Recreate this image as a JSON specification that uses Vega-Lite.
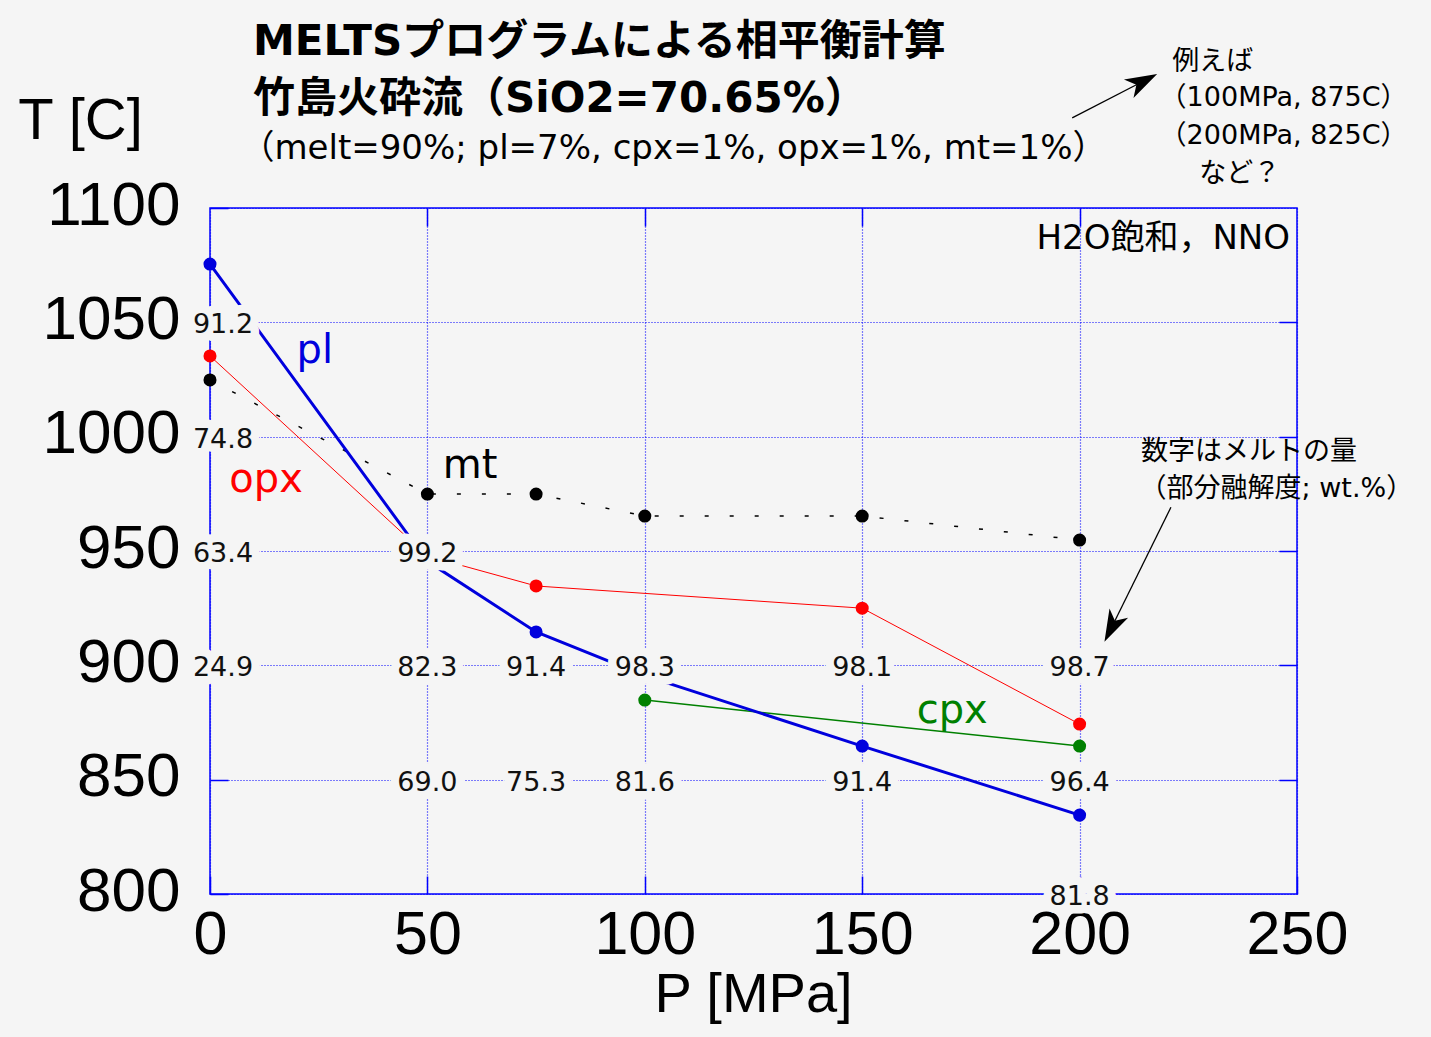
{
  "$schema": "https://vega.github.io/schema/vega-lite/v6.json",
  "width": 1087,
  "height": 686,
  "autosize": {"type": "none"},
  "padding": {"left": 210, "top": 208, "right": 134, "bottom": 143},
  "background": "#f5f5f5",
  "config": {
    "view": {"stroke": "#0000ff", "strokeWidth": 1.5, "fill": null},
    "font": "DejaVu Sans, Noto Sans CJK JP"
  },
  "datasets": {
    "phases": [
      {"phase": "pl", "P": 0, "T": 1075.5}, {"phase": "pl", "P": 50, "T": 945.5}, {"phase": "pl", "P": 75, "T": 914.6},
      {"phase": "pl", "P": 100, "T": 895.5}, {"phase": "pl", "P": 150, "T": 864.7}, {"phase": "pl", "P": 200, "T": 834.5},
      {"phase": "opx", "P": 0, "T": 1035.3}, {"phase": "opx", "P": 50, "T": 947.8}, {"phase": "opx", "P": 75, "T": 934.7},
      {"phase": "opx", "P": 150, "T": 925.0}, {"phase": "opx", "P": 200, "T": 874.3},
      {"phase": "mt", "P": 0, "T": 1024.8}, {"phase": "mt", "P": 50, "T": 974.9}, {"phase": "mt", "P": 75, "T": 974.9},
      {"phase": "mt", "P": 100, "T": 965.3}, {"phase": "mt", "P": 150, "T": 965.3}, {"phase": "mt", "P": 200, "T": 954.8},
      {"phase": "cpx", "P": 100, "T": 884.8}, {"phase": "cpx", "P": 200, "T": 864.7}
    ],
    "melt": [
      {"P": 0, "T": 1050, "melt": "91.2"}, {"P": 0, "T": 1000, "melt": "74.8"}, {"P": 0, "T": 950, "melt": "63.4"}, {"P": 0, "T": 900, "melt": "24.9"},
      {"P": 50, "T": 950, "melt": "99.2"}, {"P": 50, "T": 900, "melt": "82.3"}, {"P": 50, "T": 850, "melt": "69.0"},
      {"P": 75, "T": 900, "melt": "91.4"}, {"P": 75, "T": 850, "melt": "75.3"},
      {"P": 100, "T": 900, "melt": "98.3"}, {"P": 100, "T": 850, "melt": "81.6"},
      {"P": 150, "T": 900, "melt": "98.1"}, {"P": 150, "T": 850, "melt": "91.4"},
      {"P": 200, "T": 900, "melt": "98.7"}, {"P": 200, "T": 850, "melt": "96.4"}, {"P": 200, "T": 800, "melt": "81.8"}
    ],
    "names": [
      {"phase": "pl", "P": 24.1, "T": 1032.2}, {"phase": "opx", "P": 12.9, "T": 975.8},
      {"phase": "mt", "P": 59.8, "T": 981.9}, {"phase": "cpx", "P": 170.7, "T": 874.8}
    ],
    "titles": [
      {"text": "MELTSプログラムによる相平衡計算", "P": 9.9, "T": 1166.9},
      {"text": "竹島火砕流（SiO2=70.65%）", "P": 9.9, "T": 1142.0}
    ],
    "subtitle": [
      {"text": "（melt=90%; pl=7%, cpx=1%, opx=1%, mt=1%）", "P": 7, "T": 1121.4}
    ],
    "notes": [
      {"text": "例えば", "P": 221.3, "T": 1160.3},
      {"text": "（100MPa, 875C）", "P": 218.4, "T": 1144.4},
      {"text": "（200MPa, 825C）", "P": 218.4, "T": 1128.2},
      {"text": "など？", "P": 227.5, "T": 1111.4},
      {"text": "数字はメルトの量", "P": 214.1, "T": 989.8},
      {"text": "（部分融解度; wt.%）", "P": 213.8, "T": 973.6}
    ],
    "cond": [
      {"text": "H2O飽和，NNO", "P": 248.4, "T": 1082.1}
    ],
    "arrows": [
      {"P": 198.3, "T": 1139.4, "P2": 214.3, "T2": 1155.1},
      {"P": 221.0, "T": 969.1, "P2": 207.5, "T2": 917.1}
    ],
    "headUp": [{"P": 214.3, "T": 1155.1}],
    "headDown": [{"P": 207.5, "T": 917.1}]
  },
  "layer": [
    {
      "data": {"name": "phases"},
      "transform": [{"filter": "datum.phase === 'cpx'"}],
      "mark": {"type": "line", "color": "#008000", "strokeWidth": 1.5},
      "encoding": {
        "x": {"field": "P", "type": "quantitative", "scale": {"domain": [0, 250], "nice": false, "zero": false},
          "axis": {"orient": "bottom", "values": [0, 50, 100, 150, 200, 250], "format": "d", "grid": true, "gridColor": "#0000ff", "gridDash": [1, 2], "gridWidth": 1.2, "gridOpacity": 1,
            "domain": false, "ticks": true, "tickSize": -18, "tickColor": "#0000ff", "tickWidth": 1.5,
            "labelFont": "Liberation Sans", "labelFontSize": 61, "labelColor": "#000000", "labelPadding": 29, "labelFlush": false, "labelOverlap": false,
            "title": "P [MPa]", "titleFont": "Liberation Sans", "titleFontSize": 56, "titleFontWeight": "normal", "titleColor": "#000000",
            "titleX": 543, "titleY": 117, "titleAlign": "center", "titleBaseline": "alphabetic", "zindex": 0}},
        "y": {"field": "T", "type": "quantitative", "scale": {"domain": [800, 1100], "nice": false, "zero": false},
          "axis": {"orient": "left", "values": [800, 850, 900, 950, 1000, 1050, 1100], "format": "d", "grid": true, "gridColor": "#0000ff", "gridDash": [1, 2], "gridWidth": 1.2, "gridOpacity": 1,
            "domain": false, "ticks": true, "tickSize": -18, "tickColor": "#0000ff", "tickWidth": 1.5,
            "labelFont": "Liberation Sans", "labelFontSize": 62, "labelColor": "#000000", "labelPadding": 48, "labelOffset": -3, "labelFlush": false, "labelOverlap": false,
            "title": "T [C]", "titleFont": "Liberation Sans", "titleFontSize": 58, "titleFontWeight": "normal", "titleColor": "#000000",
            "titleAngle": 0, "titleX": -130, "titleY": -70, "titleAlign": "center", "titleBaseline": "alphabetic", "zindex": 0}}
      }
    },
    {
      "data": {"name": "phases"},
      "transform": [{"filter": "datum.phase === 'opx'"}],
      "mark": {"type": "line", "color": "#ff0000", "strokeWidth": 1},
      "encoding": {
        "x": {"field": "P", "type": "quantitative", "axis": null},
        "y": {"field": "T", "type": "quantitative", "axis": null}
      }
    },
    {
      "data": {"name": "phases"},
      "transform": [{"filter": "datum.phase === 'mt'"}],
      "mark": {"type": "line", "color": "#000000", "strokeWidth": 1.5, "strokeDash": [4, 21]},
      "encoding": {
        "x": {"field": "P", "type": "quantitative", "axis": null},
        "y": {"field": "T", "type": "quantitative", "axis": null}
      }
    },
    {
      "data": {"name": "phases"},
      "transform": [{"filter": "datum.phase === 'pl'"}],
      "mark": {"type": "line", "color": "#0000dd", "strokeWidth": 3},
      "encoding": {
        "x": {"field": "P", "type": "quantitative", "axis": null},
        "y": {"field": "T", "type": "quantitative", "axis": null}
      }
    },
    {
      "data": {"name": "phases"},
      "mark": {"type": "point", "filled": true, "size": 170, "opacity": 1},
      "encoding": {
        "x": {"field": "P", "type": "quantitative",
          "axis": {"orient": "top", "values": [50, 100, 150, 200], "grid": false, "domain": false, "labels": false, "ticks": true, "tickSize": -18, "tickColor": "#0000ff", "tickWidth": 1.5, "title": null, "zindex": 0}},
        "y": {"field": "T", "type": "quantitative",
          "axis": {"orient": "right", "values": [850, 900, 950, 1000, 1050], "grid": false, "domain": false, "labels": false, "ticks": true, "tickSize": -18, "tickColor": "#0000ff", "tickWidth": 1.5, "title": null, "zindex": 0}},
        "color": {"field": "phase", "type": "nominal", "scale": {"domain": ["pl", "opx", "mt", "cpx"], "range": ["#0000dd", "#ff0000", "#000000", "#008000"]}, "legend": null}
      }
    },
    {
      "data": {"name": "melt"},
      "transform": [{"filter": "datum.P > 0"}],
      "mark": {"type": "text", "font": "DejaVu Sans", "fontSize": 27, "align": "center", "baseline": "middle", "dy": 3, "fill": "#f5f5f5", "stroke": "#f5f5f5", "strokeWidth": 17, "strokeJoin": "round"},
      "encoding": {
        "x": {"field": "P", "type": "quantitative", "axis": null},
        "y": {"field": "T", "type": "quantitative", "axis": null},
        "text": {"field": "melt"}
      }
    },
    {
      "data": {"name": "melt"},
      "transform": [{"filter": "datum.P === 0"}],
      "mark": {"type": "text", "font": "DejaVu Sans", "fontSize": 27, "align": "center", "baseline": "middle", "dx": 13, "dy": 3, "fill": "#f5f5f5", "stroke": "#f5f5f5", "strokeWidth": 17, "strokeJoin": "round"},
      "encoding": {
        "x": {"field": "P", "type": "quantitative", "axis": null},
        "y": {"field": "T", "type": "quantitative", "axis": null},
        "text": {"field": "melt"}
      }
    },
    {
      "data": {"name": "melt"},
      "transform": [{"filter": "datum.P > 0"}],
      "mark": {"type": "text", "font": "DejaVu Sans", "fontSize": 27, "align": "center", "baseline": "middle", "dy": 3, "color": "#111111"},
      "encoding": {
        "x": {"field": "P", "type": "quantitative", "axis": null},
        "y": {"field": "T", "type": "quantitative", "axis": null},
        "text": {"field": "melt"}
      }
    },
    {
      "data": {"name": "melt"},
      "transform": [{"filter": "datum.P === 0"}],
      "mark": {"type": "text", "font": "DejaVu Sans", "fontSize": 27, "align": "center", "baseline": "middle", "dx": 13, "dy": 3, "color": "#111111"},
      "encoding": {
        "x": {"field": "P", "type": "quantitative", "axis": null},
        "y": {"field": "T", "type": "quantitative", "axis": null},
        "text": {"field": "melt"}
      }
    },
    {
      "data": {"name": "names"},
      "mark": {"type": "text", "font": "DejaVu Sans", "fontSize": 40, "align": "center", "baseline": "alphabetic"},
      "encoding": {
        "x": {"field": "P", "type": "quantitative", "axis": null},
        "y": {"field": "T", "type": "quantitative", "axis": null},
        "text": {"field": "phase"},
        "color": {"field": "phase", "type": "nominal", "scale": {"domain": ["pl", "opx", "mt", "cpx"], "range": ["#0000dd", "#ff0000", "#000000", "#008000"]}, "legend": null}
      }
    },
    {
      "data": {"name": "titles"},
      "mark": {"type": "text", "font": "DejaVu Sans, Noto Sans CJK JP", "fontSize": 42, "fontWeight": "bold", "align": "left", "baseline": "alphabetic", "color": "#000000"},
      "encoding": {
        "x": {"field": "P", "type": "quantitative", "axis": null},
        "y": {"field": "T", "type": "quantitative", "axis": null},
        "text": {"field": "text"}
      }
    },
    {
      "data": {"name": "subtitle"},
      "mark": {"type": "text", "font": "DejaVu Sans, Noto Sans CJK JP", "fontSize": 34, "align": "left", "baseline": "alphabetic", "color": "#000000"},
      "encoding": {
        "x": {"field": "P", "type": "quantitative", "axis": null},
        "y": {"field": "T", "type": "quantitative", "axis": null},
        "text": {"field": "text"}
      }
    },
    {
      "data": {"name": "notes"},
      "mark": {"type": "text", "font": "DejaVu Sans, Noto Sans CJK JP", "fontSize": 27, "align": "left", "baseline": "alphabetic", "color": "#000000"},
      "encoding": {
        "x": {"field": "P", "type": "quantitative", "axis": null},
        "y": {"field": "T", "type": "quantitative", "axis": null},
        "text": {"field": "text"}
      }
    },
    {
      "data": {"name": "cond"},
      "mark": {"type": "text", "font": "DejaVu Sans, Noto Sans CJK JP", "fontSize": 34, "align": "right", "baseline": "alphabetic", "color": "#000000"},
      "encoding": {
        "x": {"field": "P", "type": "quantitative", "axis": null},
        "y": {"field": "T", "type": "quantitative", "axis": null},
        "text": {"field": "text"}
      }
    },
    {
      "data": {"name": "arrows"},
      "mark": {"type": "rule", "color": "#000000", "strokeWidth": 1.3},
      "encoding": {
        "x": {"field": "P", "type": "quantitative", "axis": null},
        "y": {"field": "T", "type": "quantitative", "axis": null},
        "x2": {"field": "P2"},
        "y2": {"field": "T2"}
      }
    },
    {
      "data": {"name": "headUp"},
      "mark": {"type": "point", "shape": "M0,-1L0.6,0.85L0,0.35L-0.6,0.85Z", "size": 1200, "angle": 62.6, "filled": true, "color": "#000000", "opacity": 1},
      "encoding": {
        "x": {"field": "P", "type": "quantitative", "axis": null},
        "y": {"field": "T", "type": "quantitative", "axis": null}
      }
    },
    {
      "data": {"name": "headDown"},
      "mark": {"type": "point", "shape": "M0,-1L0.6,0.85L0,0.35L-0.6,0.85Z", "size": 1200, "angle": 206.6, "filled": true, "color": "#000000", "opacity": 1},
      "encoding": {
        "x": {"field": "P", "type": "quantitative", "axis": null},
        "y": {"field": "T", "type": "quantitative", "axis": null}
      }
    }
  ],
  "resolve": {"axis": {"x": "independent", "y": "independent"}}
}
